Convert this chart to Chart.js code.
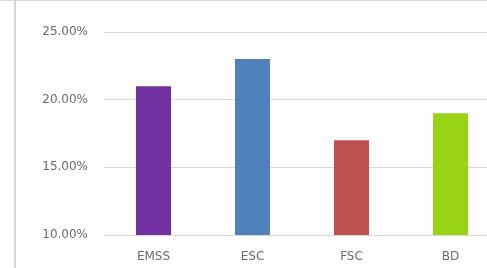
<!DOCTYPE html>
<html>
<head>
<meta charset="utf-8">
<script src="https://cdn.jsdelivr.net/npm/chart.js@4/dist/chart.umd.min.js"></script>
<style>
  html, body { margin: 0; padding: 0; overflow: hidden; background: #fff; }
  #wrap { position: absolute; left: 0; top: 0; width: 500px; height: 268px; }
  #edgeTop { position: absolute; left: 0; top: 0; width: 487px; height: 1px; background: #dcd7ea; }
  #edgeLeft { position: absolute; left: 14px; top: 0; width: 2px; height: 268px; background: #d6d6d6; }
</style>
</head>
<body>
<div id="wrap"><canvas id="chart" width="500" height="268"></canvas></div>
<div id="edgeTop"></div>
<div id="edgeLeft"></div>
<script>
const categories = ['EMSS', 'ESC', 'FSC', 'BD'];
const values = [21, 23, 17, 19];
const barColors = ['#7030a0', '#4f81bd', '#c0504d', '#99d414'];
const yTicks = [10, 15, 20, 25];

const labelFont = { family: 'DejaVu Sans', size: 12 }

const chart = new Chart(document.getElementById('chart'), {
    type: 'bar',
    data: {
        labels: categories,
        datasets: [{
            data: values,
            backgroundColor: barColors,
            categoryPercentage: 1,
            barPercentage: 0.354
        }]
    },
    options: {
        responsive: false,
        animation: false,
        layout: { padding: { top: 32, left: 0, right: 0, bottom: 0 } },
        plugins: { legend: { display: false }, tooltip: { enabled: false } },
        scales: {
            x: {
                grid: { display: false, drawTicks: false },
                border: { display: false },
                ticks: { color: '#6a6a6a', font: labelFont, padding: 15 },
                afterFit: function (s) { s.height = 33 }
            },
            y: {
                min: 10, max: 25,
                afterBuildTicks: function (s) { s.ticks = yTicks.map(v => ({ value: v })) },
                grid: { color: '#d9d9d9', drawTicks: false },
                border: { display: false },
                ticks: {
                    color: '#6a6a6a', font: labelFont, padding: 16,
                    callback: function (v) { return v.toFixed(2) + '%' }
                },
                afterFit: function (s) { s.width = 104 }
            }
        }
    }
})
</script>
</body>
</html>
